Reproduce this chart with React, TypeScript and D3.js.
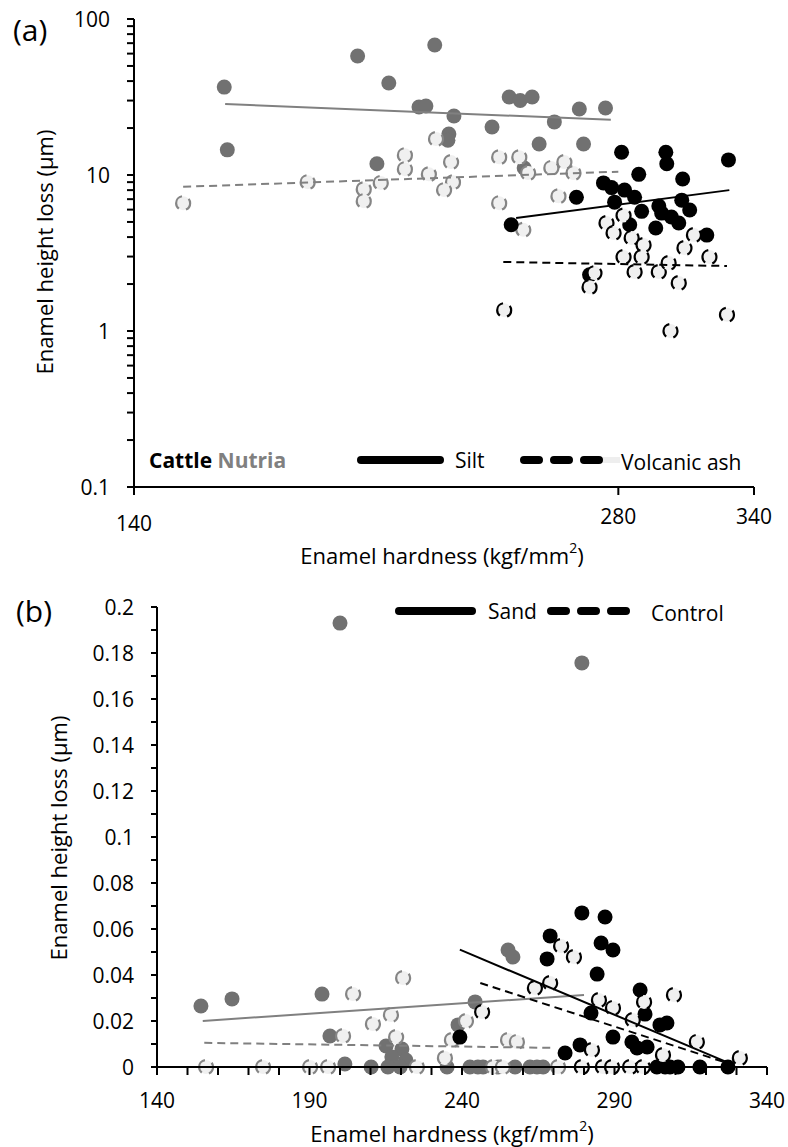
import React from 'react';
import * as d3 from 'd3';

// ---------- Panel (a) data: [hardness, height loss] ----------
const aNutriaSilt: [number, number][] = [
  [159.3, 36.6], [160, 14.5], [192.8, 57.9], [198.2, 11.8], [201.6, 38.9], [210.5, 27.3],
  [212.6, 27.7], [215.3, 68.1], [221.3, 23.9], [219.7, 18.3], [219.4, 16.7], [233.7, 20.3],
  [244.7, 11.1], [250, 15.8], [255.5, 21.9], [266.4, 15.8], [239.5, 31.6], [243.3, 30.0],
  [247.5, 31.6], [264.8, 26.5], [274.9, 26.9],
];
const aNutriaAsh: [number, number][] = [
  [150.2, 6.6], [179.5, 9.0], [194.5, 8.1], [194.5, 6.8], [199.3, 8.9], [206.3, 13.4],
  [206.3, 10.9], [213.5, 10.1], [215.7, 17.0], [220.4, 12.1], [221, 9.0], [218.2, 8.0],
  [236.1, 13.0], [236.1, 6.6], [243, 13.0], [246.1, 10.3], [254.4, 11.1], [259.2, 12.1],
  [262.6, 10.3], [257, 7.3], [244.4, 4.45],
];
const aCattleSilt: [number, number][] = [
  [281.3, 14.0], [299.7, 14.0], [300.1, 11.8], [327.8, 12.5], [288.3, 10.1], [307, 9.43],
  [263.7, 7.2], [274.1, 8.9], [277.3, 8.3], [282.5, 8.0], [286.6, 7.2], [278.5, 6.7],
  [289.5, 5.85], [296.7, 6.33], [297.9, 5.7], [306.6, 6.9], [310.1, 5.96], [302.1, 5.38],
  [305.3, 4.92], [284.6, 4.8], [295.4, 4.57], [317.8, 4.12], [240.2, 4.8], [268.7, 2.29],
];
const aCattleAsh: [number, number][] = [
  [275.3, 4.92], [278.1, 4.25], [282.1, 5.5], [285.4, 3.95], [290.3, 3.56], [282.1, 2.98],
  [289.5, 2.98], [286.6, 2.39], [296.7, 2.39], [300.9, 2.73], [307.8, 3.4], [312, 4.12],
  [319, 2.98], [305.3, 2.03], [268.7, 1.91], [270.6, 2.35], [237.8, 1.36], [301.7, 1.0],
  [327.1, 1.27],
];
const aNutriaSiltFit: [number, number][] = [[159.5, 28.5], [277, 22.6]];
const aNutriaAshFit: [number, number][] = [[150.2, 8.4], [280, 10.5]];
const aCattleSiltFit: [number, number][] = [[241.9, 5.3], [328.2, 8.0]];
const aCattleAshFit: [number, number][] = [[237.5, 2.77], [327.1, 2.61]];
const aYTicks = [0.1, 1, 10, 100];
const aXTicks = [140, 280, 340];

// ---------- Panel (b) data ----------
const bNutriaSilt: [number, number][] = [
  [154.4, 0.0265], [164.6, 0.0296], [194.1, 0.0317], [196.7, 0.0135], [200, 0.193],
  [201.6, 0.0013], [210.2, 0], [215.1, 0.0091], [220.3, 0.0078], [221.6, 0.003], [217, 0.0043],
  [215.7, 0], [219.7, 0], [235.1, 0], [238.7, 0.0183], [244.3, 0.0283], [255.1, 0.0509],
  [256.7, 0.0478], [279.3, 0.1757], [242.6, 0], [245.2, 0], [246.9, 0], [251.8, 0],
  [257.4, 0], [262.3, 0], [264.6, 0], [266.6, 0],
];
const bNutriaAsh: [number, number][] = [
  [156.1, 0], [174.8, 0], [190.2, 0], [196.1, 0], [201, 0.0135], [204.3, 0.0317],
  [210.8, 0.0187], [216.7, 0.0226], [218.4, 0.013], [220.7, 0.0387], [225.2, 0], [234.4, 0.0039],
  [236.7, 0.0117], [241.3, 0.02], [250.2, 0], [253.4, 0], [255.1, 0.0117], [258, 0.0109],
  [271.5, 0],
];
const bCattleSilt: [number, number][] = [
  [239.3, 0.013], [273.8, 0.0061], [278.7, 0.0096], [282.3, 0.0235], [289.5, 0.013],
  [295.7, 0.0109], [297.4, 0.0083], [300.7, 0.0087], [304.9, 0.0183], [307.2, 0.0191],
  [303.9, 0], [306.6, 0], [308.2, 0], [310.8, 0], [318, 0], [327.2, 0], [279.3, 0.067],
  [286.9, 0.0652], [268.9, 0.057], [285.6, 0.0539], [289.5, 0.0509], [267.9, 0.047],
  [284.3, 0.0404], [298.4, 0.0335], [300, 0.023],
];
const bCattleAsh: [number, number][] = [
  [272.5, 0.0526], [276.7, 0.0478], [268.9, 0.0365], [263.9, 0.0343], [299.7, 0.0283],
  [309.5, 0.0313], [284.9, 0.0291], [289.5, 0.0257], [246.6, 0.0239], [282.6, 0.0074],
  [296, 0.0204], [305.9, 0.0052], [317, 0.0109], [331.1, 0.0039], [279.3, 0], [286.2, 0],
  [289.2, 0], [295.1, 0], [299.3, 0],
];
const bNutriaSiltFit: [number, number][] = [[155, 0.02], [280, 0.0313]];
const bNutriaAshFit: [number, number][] = [[155.5, 0.0105], [270, 0.0083]];
const bCattleSiltFit: [number, number][] = [[239.3, 0.051], [328, 0.0015]];
const bCattleAshFit: [number, number][] = [[246, 0.0365], [327, 0.0017]];
const bYTicks = [0, 0.02, 0.04, 0.06, 0.08, 0.1, 0.12, 0.14, 0.16, 0.18, 0.2];
const bXTicks = [140, 190, 240, 290, 340];

const FONT = "'Open Sans', sans-serif";
const GREY = '#717171';
const LIGHT = '#f0f0f0';
const R = 7.5;
const CIRC = 2 * Math.PI * R;

type Sc = (v: number) => number;

function Markers({ data, sx, sy, kind }: { data: [number, number][]; sx: Sc; sy: Sc; kind: string }) {
  return (
    <g>
      {data.map((d, i) => {
        const cx = sx(d[0]);
        const cy = sy(d[1]);
        if (kind === 'nsilt') return <circle key={i} cx={cx} cy={cy} r={R} fill={GREY} />;
        if (kind === 'csilt') return <circle key={i} cx={cx} cy={cy} r={R} fill="#000" />;
        const stroke = kind === 'nash' ? '#858585' : '#000';
        return (
          <circle key={i} cx={cx} cy={cy} r={R - 0.5} fill={LIGHT} stroke={stroke} strokeWidth={2.2}
            strokeDasharray={`${CIRC * 0.34} ${CIRC * 0.16}`} strokeDashoffset={CIRC * 0.17} />
        );
      })}
    </g>
  );
}

function Fit({ data, sx, sy, color, dashed }: { data: [number, number][]; sx: Sc; sy: Sc; color: string; dashed?: boolean }) {
  const line = d3.line<[number, number]>().x((d) => sx(d[0])).y((d) => sy(d[1]));
  return <path d={line(data) || ''} fill="none" stroke={color} strokeWidth={2} strokeDasharray={dashed ? '8 5' : undefined} />;
}

export default function App() {
  const ax = d3.scaleLog().domain([140, 340]).range([134, 754]);
  const ay = d3.scaleLog().domain([0.1, 100]).range([487, 19]);
  const bx = d3.scaleLinear().domain([140, 340]).range([157, 767]);
  const by = d3.scaleLinear().domain([0, 0.2]).range([1067, 607]);

  const aMinor: number[] = [];
  [0.1, 1, 10].forEach((dec) => { for (let k = 1; k <= 9; k++) aMinor.push(dec * k); });
  aMinor.push(100);
  const bMinorY = d3.range(0, 21).map((i) => i * 0.01);
  const bMinorX = d3.range(140, 341, 10);

  const tickFont = 21;
  return (
    <svg width={788} height={1147} style={{ position: 'absolute', left: 0, top: 0, background: '#fff' }} fontFamily={FONT}>
      <rect x={0} y={0} width={788} height={1147} fill="#fff" />
      {/* ---------- Panel (a) ---------- */}
      <text x={13} y={41} fontSize={30}>(a)</text>
      <Markers data={aNutriaSilt} sx={ax} sy={ay} kind="nsilt" />
      <Markers data={aNutriaAsh} sx={ax} sy={ay} kind="nash" />
      <Markers data={aCattleSilt} sx={ax} sy={ay} kind="csilt" />
      <Markers data={aCattleAsh} sx={ax} sy={ay} kind="cash" />
      <Fit data={aNutriaSiltFit} sx={ax} sy={ay} color="#808080" />
      <Fit data={aNutriaAshFit} sx={ax} sy={ay} color="#808080" dashed />
      <Fit data={aCattleSiltFit} sx={ax} sy={ay} color="#000" />
      <Fit data={aCattleAshFit} sx={ax} sy={ay} color="#000" dashed />
      {/* axes */}
      <line x1={134} x2={134} y1={ay(100)} y2={ay(0.1)} stroke="#000" strokeWidth={2} />
      <line x1={134} x2={754} y1={487} y2={487} stroke="#000" strokeWidth={2} />
      {aMinor.map((v, i) => (
        <line key={i} x1={127} x2={134} y1={ay(v)} y2={ay(v)} stroke="#000" strokeWidth={2} />
      ))}
      {aYTicks.map((v) => (
        <text key={v} x={110} y={ay(v)} fontSize={tickFont} textAnchor="end" dominantBaseline="central">{String(v)}</text>
      ))}
      {aXTicks.map((v) => (
        <g key={v}>
          <line x1={ax(v)} x2={ax(v)} y1={487} y2={495} stroke="#000" strokeWidth={2} />
          <text x={ax(v)} y={v === 140 ? 523 : 516} fontSize={tickFont} textAnchor="middle" dominantBaseline="central">{String(v)}</text>
        </g>
      ))}
      <text x={442} y={555} fontSize={22} textAnchor="middle" dominantBaseline="central">
        Enamel hardness (kgf/mm<tspan fontSize={14} dy={-8}>2</tspan><tspan dy={8}>)</tspan>
      </text>
      <text transform="translate(44,252) rotate(-90)" fontSize={22} textAnchor="middle" dominantBaseline="central">
        Enamel height loss (µm)
      </text>
      {/* legend (a) */}
      <text x={149} y={460} fontSize={21} fontWeight="bold" dominantBaseline="central">
        <tspan fill="#000">Cattle</tspan><tspan fill="#808080"> Nutria</tspan>
      </text>
      <line x1={361} x2={440} y1={460} y2={460} stroke="#000" strokeWidth={8} strokeLinecap="round" />
      <text x={455} y={460} fontSize={21} dominantBaseline="central">Silt</text>
      <rect x={600} y={457} width={20} height={6} fill="#eeeeee" />
      <line x1={524} x2={602} y1={460} y2={460} stroke="#000" strokeWidth={8} strokeLinecap="round" strokeDasharray="15 15" />
      <text x={621} y={462} fontSize={21} dominantBaseline="central">Volcanic ash</text>

      {/* ---------- Panel (b) ---------- */}
      <text x={16} y={622} fontSize={30}>(b)</text>
      <Markers data={bNutriaSilt} sx={bx} sy={by} kind="nsilt" />
      <Markers data={bNutriaAsh} sx={bx} sy={by} kind="nash" />
      <Markers data={bCattleSilt} sx={bx} sy={by} kind="csilt" />
      <Markers data={bCattleAsh} sx={bx} sy={by} kind="cash" />
      <Fit data={bNutriaSiltFit} sx={bx} sy={by} color="#808080" />
      <Fit data={bNutriaAshFit} sx={bx} sy={by} color="#808080" dashed />
      <Fit data={bCattleSiltFit} sx={bx} sy={by} color="#000" />
      <Fit data={bCattleAshFit} sx={bx} sy={by} color="#000" dashed />
      <line x1={157} x2={157} y1={by(0.2)} y2={by(0)} stroke="#000" strokeWidth={2} />
      <line x1={157} x2={767} y1={1067} y2={1067} stroke="#000" strokeWidth={2} />
      {bMinorY.map((v, i) => (
        <line key={i} x1={151} x2={157} y1={by(v)} y2={by(v)} stroke="#000" strokeWidth={2} />
      ))}
      {bMinorX.map((v, i) => (
        <line key={i} x1={bx(v)} x2={bx(v)} y1={1067} y2={1075} stroke="#000" strokeWidth={2} />
      ))}
      {bYTicks.map((v) => (
        <text key={v} x={134} y={by(v)} fontSize={tickFont} textAnchor="end" dominantBaseline="central">{String(v)}</text>
      ))}
      {bXTicks.map((v) => (
        <text key={v} x={bx(v)} y={1100} fontSize={tickFont} textAnchor="middle" dominantBaseline="central">{String(v)}</text>
      ))}
      <text x={452} y={1133} fontSize={22} textAnchor="middle" dominantBaseline="central">
        Enamel hardness (kgf/mm<tspan fontSize={14} dy={-8}>2</tspan><tspan dy={8}>)</tspan>
      </text>
      <text transform="translate(58,838) rotate(-90)" fontSize={22} textAnchor="middle" dominantBaseline="central">
        Enamel height loss (µm)
      </text>
      {/* legend (b) */}
      <line x1={399} x2={472} y1={611} y2={611} stroke="#000" strokeWidth={8} strokeLinecap="round" />
      <text x={488} y={611} fontSize={21} dominantBaseline="central">Sand</text>
      <line x1={551} x2={629} y1={611} y2={611} stroke="#000" strokeWidth={8} strokeLinecap="round" strokeDasharray="15 15" />
      <text x={651} y={613} fontSize={21} dominantBaseline="central">Control</text>
    </svg>
  );
}
